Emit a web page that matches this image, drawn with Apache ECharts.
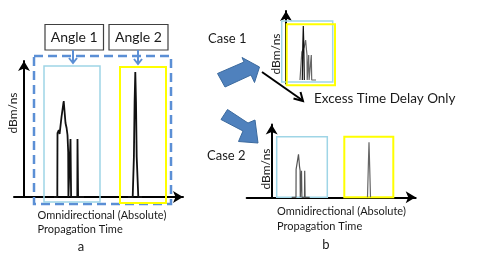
<!DOCTYPE html>
<html><head><meta charset="utf-8">
<script src="https://cdn.jsdelivr.net/npm/echarts@6/dist/echarts.min.js"></script>
<style>html,body{margin:0;padding:0;background:#fff}#c{width:485px;height:259px}</style>
</head><body><div id="c"></div>
<script>
// ---- data (relative excess time units, relative power units) ----
// Panel a: omnidirectional absolute propagation time
const angle1T = [30, 33.3, 33.5, 34.8, 35.6, 37.5, 39.7, 41.5, 42.6, 43.5, 44.2, 44.4, 46.3, 46.5, 46.9, 47.1, 53.3, 53.5, 53.9, 54.1, 60];
const angle1P = [0, 0, 64, 67, 63, 80, 96, 74, 69, 62, 45, 0, 0, 58, 58, 0, 0, 58, 58, 0, 0];
const angle2T = [104, 108.7, 109.9, 110.6, 111.3, 112.0, 112.7, 114.3, 118];
const angle2P = [0, 0, 40, 95, 125, 95, 40, 0, 0];
// Case 1: excess time delay only (both angles aligned)
const case1Angle1T = [14, 15.6, 15.8, 17.2, 18.3, 19.6, 20.5, 21.0, 21.2, 22.5, 22.7, 22.9, 23.1, 25.1, 25.3, 25.5, 25.7, 30];
const case1Angle1P = [0, 0, 28, 30, 33, 40, 30, 25, 0, 0, 25, 25, 0, 0, 25, 25, 0, 0];
const case1Angle2T = [16.3, 16.8, 17.3, 17.8, 18.3];
const case1Angle2P = [0, 35, 54, 35, 0];
// Case 2: absolute propagation time
const case2Angle1T = [20, 24.3, 24.4, 25.5, 26.8, 27.8, 28.4, 28.6, 29.6, 29.8, 30.0, 30.2, 32.8, 33.0, 33.2, 33.4, 38];
const case2Angle1P = [0, 0, 28, 30, 43, 31, 27, 0, 0, 26.5, 26.5, 0, 0, 26.5, 26.5, 0, 0];
const case2Angle2T = [95.8, 96.6, 97.3, 98.0, 98.8];
const case2Angle2P = [0, 30, 55, 30, 0];

const yName = 'dBm/ns';
const xName1 = 'Omnidirectional (Absolute)';
const xName2 = 'Propagation Time';

const zip = (a, b) => a.map((v, i) => [v, b[i]]);
const FONT = 'Lato, "Liberation Sans", sans-serif';
const BLUE = '#5B8FD5';
const LBLUE = '#9FD5E6';
const YEL = '#FFFF00';

const chart = echarts.init(document.getElementById('c'), null, {renderer: 'canvas'});

function axisX(show, min, max, grid) {
  return {type: 'value', gridIndex: grid, min, max, show: true,
    axisLine: {show: show, onZero: false, symbol: ['none', 'arrow'], symbolSize: [9, 10], lineStyle: {color: '#000', width: 2}},
    axisTick: {show: false}, axisLabel: {show: false}, splitLine: {show: false}};
}
function axisY(min, max, grid) {
  return {type: 'value', gridIndex: grid, min, max,
    axisLine: {show: true, onZero: true, symbol: ['none', 'arrow'], symbolSize: [9, 10], lineStyle: {color: '#000', width: 2}},
    axisTick: {show: false}, axisLabel: {show: false}, splitLine: {show: false}};
}
function line(x, y, xi, color, w) {
  return {type: 'line', xAxisIndex: xi, yAxisIndex: xi, data: zip(x, y), showSymbol: false, symbol: 'none',
    lineStyle: {color, width: w}, animation: false, z: 5, silent: true};
}

function txt(text, x, y, size, align, extra) {
  return Object.assign({type: 'text', z: 20, x, y, style: {text, x: 0, y: 0, fontSize: size, fontFamily: FONT,
    fill: '#1a1a1a', textAlign: align || 'left', textVerticalAlign: 'middle', verticalAlign: 'middle'}}, extra || {});
}
function rect(x, y, w, h, stroke, lw, dash, fill) {
  return {type: 'rect', z: 1, shape: {x, y, width: w, height: h},
    style: {fill: fill || 'none', stroke, lineWidth: lw, lineDash: dash || null}};
}
function vArrow(x, y1, y2) {
  return [
    {type: 'line', z: 3, shape: {x1: x, y1, x2: x, y2}, style: {stroke: BLUE, lineWidth: 2}},
    {type: 'polyline', z: 3, shape: {points: [[x - 4, y2 - 5], [x, y2], [x + 4, y2 - 5]]}, style: {stroke: BLUE, lineWidth: 2, fill: 'none'}}
  ];
}

const graphic = [
  // panel a boxes
  rect(34, 56, 137, 148, BLUE, 2.5, [9, 5]),
  rect(44, 66, 56, 136, LBLUE, 1.5),
  rect(120, 67, 46, 136, YEL, 2),
  rect(45, 24.5, 58.5, 25.5, '#404040', 1.2, null, '#fff'),
  rect(109, 24.5, 59, 25.5, '#404040', 1.2, null, '#fff'),
  txt('Angle 1', 74.2, 37, 14, 'center'),
  txt('Angle 2', 138.5, 37, 14, 'center'),
  ...vArrow(73, 50, 63),
  ...vArrow(138, 50, 64),
  txt(yName, 13, 113, 12, 'center', {rotation: Math.PI / 2}),
  txt(xName1, 37.5, 215.7, 11, 'left'),
  txt(xName2, 37.5, 229.3, 11, 'left'),
  txt('a', 81, 246.5, 13, 'center'),
  // block arrows
  {type: 'polygon', z: 3, shape: {points: [[217.5, 73.5], [244, 62], [242, 57.5], [259.5, 67], [254.5, 82.5], [251, 75], [225, 87]]},
    style: {fill: '#4F81BD', stroke: '#3C6A9E', lineWidth: 1}},
  {type: 'polygon', z: 3, shape: {points: [[227.5, 109.5], [248, 123], [255, 120], [258, 143], [238.5, 141.5], [243, 131], [221, 119.5]]},
    style: {fill: '#4F81BD', stroke: '#3C6A9E', lineWidth: 1}},
  // case 1
  rect(281.7, 21, 51, 61, LBLUE, 1.5),
  rect(286.7, 24.3, 48.3, 61, YEL, 2),
  {type: 'line', z: 6, shape: {x1: 262, y1: 72, x2: 302, y2: 100}, style: {stroke: '#000', lineWidth: 2}},
  {type: 'polyline', z: 6, shape: {points: [[293.5, 98.5], [303, 101], [300.5, 92]]}, style: {stroke: '#000', lineWidth: 2, fill: 'none'}},
  txt('Case 1', 208, 39, 13, 'left'),
  txt(yName, 276, 54, 12, 'center', {rotation: Math.PI / 2}),
  txt('Excess Time Delay Only', 314, 99, 13.5, 'left'),
  // case 2
  rect(276.7, 136.7, 50.6, 60.5, LBLUE, 1.5),
  rect(344.3, 136.7, 49, 60.6, YEL, 2),
  txt('Case 2', 207, 156, 13, 'left'),
  txt(yName, 266, 169, 12, 'center', {rotation: Math.PI / 2}),
  txt(xName1, 277, 211.7, 11, 'left'),
  txt(xName2, 277, 226, 11, 'left'),
  txt('b', 326, 245, 13, 'center')
];

chart.setOption({
  animation: false,
  backgroundColor: '#fff',
  grid: [
    {left: 14, top: 61, width: 169, height: 136},
    {left: 286, top: 11, width: 50, height: 72.5},
    {left: 246.7, top: 124.5, width: 169, height: 72.8}
  ],
  xAxis: [axisX(true, -10, 159, 0), axisX(false, 0, 50, 1), axisX(true, -25, 144, 2)],
  yAxis: [axisY(0, 136, 0), axisY(-3.5, 69, 1), axisY(0, 72.8, 2)],
  graphic: graphic,
  series: [
    line(angle1T, angle1P, 0, '#111', 1.8),
    line(angle2T, angle2P, 0, '#111', 1.8),
    line(case1Angle1T, case1Angle1P, 1, '#666', 1.2),
    line(case1Angle2T, case1Angle2P, 1, '#111', 1.2),
    line(case2Angle1T, case2Angle1P, 2, '#555', 1.2),
    line(case2Angle2T, case2Angle2P, 2, '#666', 1.2)
  ]
});
</script></body></html>
